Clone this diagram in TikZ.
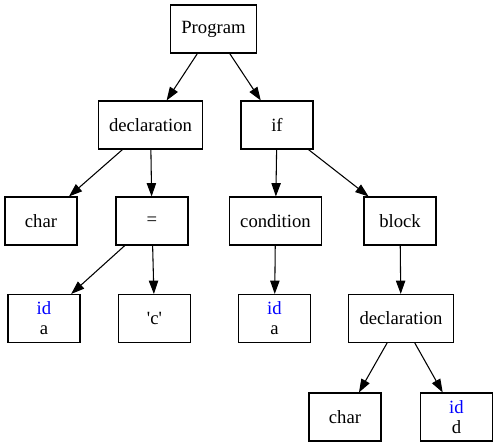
\documentclass[tikz,border=0pt]{standalone}
\usepackage{fontspec}
\setmainfont{Liberation Serif}
\usetikzlibrary{arrows.meta}
\newcommand{\ident}[1]{\textcolor{blue}{id}\\#1}

\begin{document}
\begin{tikzpicture}[x=0.75pt,y=-0.75pt,
		box/.style={draw,thick,minimum width=54pt,minimum height=36pt,align=center,
			inner xsep=8pt,font=\fontsize{14}{15}\selectfont},
		edge/.style={-{Triangle[length=10pt,width=7pt]},thick}]
		\useasboundingbox (0,0) rectangle (497,448);
		%top levels
		\node [box] (prog) at (213.5,29) {Program};
		\node [box] (decl) at (150.5,125) {declaration};
		\node [box] (if) at (277,125) {if};
		\node [box] (char) at (41,221) {char};
		\node [box] (eq) at (152,221) {=};
		\node [box] (cond) at (275.5,221) {condition};
		\node [box] (block) at (400,221) {block};
		\node [box] (ida) at (44,318.5) {\ident{a}};
		\node [box] (lit) at (154.5,318.5) {\textquotesingle c\textquotesingle};
		\node [box] (idb) at (274.5,318.5) {\ident{a}};
		\node [box] (decltwo) at (401,318.5) {declaration};
		%the block's declaration
		\node [box] (chartwo) at (345,417) {char};
		\node [box] (idd) at (456.5,417) {\ident{d}};
		\draw [edge] (prog) -- (decl);
		\draw [edge] (prog) -- (if);
		\draw [edge] (decl) -- (char);
		\draw [edge] (decl) -- (eq);
		\draw [edge] (eq) -- (ida);
		\draw [edge] (eq) -- (lit);
		\draw [edge] (if) -- (cond);
		\draw [edge] (if) -- (block);
		\draw [edge] (cond) -- (idb);
		\draw [edge] (block) -- (decltwo);
		\draw [edge] (decltwo) -- (chartwo);
		\draw [edge] (decltwo) -- (idd);
\end{tikzpicture}
\end{document}
